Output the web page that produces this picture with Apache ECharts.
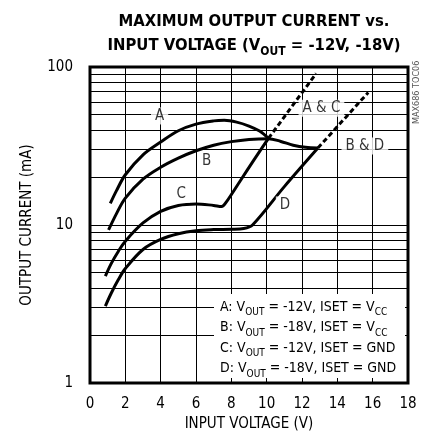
<!DOCTYPE html>
<html>
<head>
<meta charset="utf-8">
<script src="https://cdn.jsdelivr.net/npm/echarts@6/dist/echarts.min.js"></script>
<style>
  html, body { margin: 0; padding: 0; background: #fff; }
  #chart { width: 426px; height: 443px; }
</style>
</head>
<body>
<div id="chart"></div>
<script>
// curves: [input voltage (V), output current (mA)]
const curveA = [[1.15, 13.7], [1.5, 16.5], [2, 20.8], [3, 27.8], [4, 33.5], [5, 39.5], [6, 43.5], [7, 45.6], [7.6, 46], [8.3, 44.8], [9, 42.3], [9.6, 39.3], [10.1, 35.3]];
const curveB = [[1.05, 9.3], [1.5, 11.8], [2, 14.8], [3, 19.5], [4, 23.2], [5, 26.5], [6, 29.5], [7, 32], [8, 33.7], [9, 34.8], [10.1, 35.2], [10.8, 33.8], [11.5, 32], [12.2, 31], [12.9, 30.7]];
const curveC = [[0.87, 4.75], [1.2, 5.7], [1.6, 6.8], [2, 7.9], [3, 10.3], [4, 12.2], [5, 13.3], [6, 13.6], [7, 13.3], [7.45, 13.1], [7.7, 13.9], [8.5, 19], [9.3, 26], [10.1, 35.3]];
const curveD = [[0.87, 3.07], [1.2, 3.7], [1.6, 4.5], [2, 5.3], [3, 7], [4, 8.1], [5, 8.8], [6, 9.2], [7, 9.35], [8, 9.4], [8.7, 9.5], [9.2, 10], [11, 17.5], [12.9, 30.7]];
const dashAC = [[10.1, 35.3], [12.8, 91]];
const dashBD = [[12.9, 30.7], [15.75, 69]];

const minorGrid = [2, 3, 4, 5, 6, 7, 8, 9, 20, 30, 40, 50, 60, 70, 80, 90];

const curveLabels = [
  { name: 'A', value: [3.94, 49] },
  { name: 'B', value: [6.6, 25.2] },
  { name: 'C', value: [5.17, 15.7] },
  { name: 'D', value: [11.04, 13.4] },
  { name: 'A & C', value: [13.1, 54.8] },
  { name: 'B & D', value: [15.56, 31.6] }
];

const legendLines = [
  'A: V{sub|OUT} = -12V, ISET = V{sub|CC}',
  'B: V{sub|OUT} = -18V, ISET = V{sub|CC}',
  'C: V{sub|OUT} = -12V, ISET = GND',
  'D: V{sub|OUT} = -18V, ISET = GND'
];

const FONT = '"Liberation Sans Narrow", "DejaVu Sans Condensed", sans-serif';

var myChart = echarts.init(document.getElementById('chart'));

function curve(data, dashed) {
  return {
    type: 'line',
    data: data,
    smooth: dashed ? false : 0.35,
    symbol: 'none',
    silent: true,
    z: 3,
    lineStyle: {
      color: '#000',
      width: 3,
      type: dashed ? [5, 3] : 'solid'
    }
  };
}

const option = {
  animation: false,
  backgroundColor: '#fff',
  textStyle: { fontFamily: FONT },
  title: {
    text: 'MAXIMUM OUTPUT CURRENT vs.\nINPUT VOLTAGE (V{sub|OUT} = -12V, -18V)',
    left: 249,
    top: 5,
    textAlign: 'center',
    textStyle: {
      fontFamily: FONT,
      fontSize: 16.5,
      fontWeight: 'bold',
      color: '#000',
      lineHeight: 24,
      rich: {
        sub: { fontFamily: FONT, fontSize: 12, fontWeight: 'bold', color: '#000', lineHeight: 17, verticalAlign: 'bottom' }
      }
    }
  },
  grid: {
    left: 90,
    right: 18,
    top: 67,
    bottom: 60,
    show: true,
    borderColor: '#000',
    borderWidth: 3,
    backgroundColor: 'transparent'
  },
  xAxis: {
    type: 'value',
    min: 0,
    max: 18,
    interval: 2,
    name: 'INPUT VOLTAGE (V)',
    nameLocation: 'middle',
    nameGap: 30,
    nameTextStyle: { fontFamily: FONT, fontSize: 15, color: '#000' },
    axisLine: { show: false },
    axisTick: { show: false },
    axisLabel: { margin: 14, fontFamily: FONT, fontSize: 15, color: '#000' },
    splitLine: { show: true, lineStyle: { color: '#000', width: 1 } }
  },
  yAxis: {
    type: 'log',
    logBase: 10,
    min: 1,
    max: 100,
    name: 'OUTPUT CURRENT (mA)',
    nameLocation: 'middle',
    nameGap: 55,
    nameTextStyle: { fontFamily: FONT, fontSize: 15, color: '#000' },
    axisLine: { show: false },
    axisTick: { show: false },
    axisLabel: { margin: 17, fontFamily: FONT, fontSize: 15, color: '#000' },
    splitLine: { show: true, lineStyle: { color: '#000', width: 1 } }
  },
  series: [
    {
      // minor log gridlines
      type: 'line',
      data: [],
      silent: true,
      z: 1,
      markLine: {
        silent: true,
        symbol: 'none',
        label: { show: false },
        lineStyle: { color: '#000', width: 1, type: 'solid' },
        data: minorGrid.map(v => ({ yAxis: v }))
      }
    },
    curve(curveA),
    curve(curveB),
    curve(curveC),
    curve(curveD),
    curve(dashAC, true),
    curve(dashBD, true),
    {
      type: 'scatter',
      data: curveLabels,
      symbolSize: 0,
      silent: true,
      z: 5,
      label: {
        show: true,
        position: 'inside',
        formatter: p => p.name,
        fontFamily: FONT,
        fontSize: 15,
        color: '#000',
        backgroundColor: '#fff',
        padding: [1, 4]
      }
    }
  ],
  graphic: [
    {
      type: 'rect',
      z: 100,
      shape: { x: 214, y: 294, width: 191, height: 84 },
      style: { fill: '#fff' }
    },
    {
      type: 'text',
      z: 101,
      x: 220,
      y: 297,
      style: {
        text: legendLines.join('\n'),
        fontFamily: FONT,
        fontSize: 14,
        lineHeight: 20.5,
        fill: '#000',
        rich: {
          sub: { fontFamily: FONT, fontSize: 10, fill: '#000', lineHeight: 15, verticalAlign: 'bottom' }
        }
      }
    },
    {
      type: 'text',
      z: 100,
      x: 412,
      y: 124,
      rotation: Math.PI / 2,
      style: {
        text: 'MAX686 TOC06',
        fontFamily: FONT,
        fontSize: 9,
        fill: '#555'
      }
    }
  ]
};
myChart.setOption(option);
</script>
</body>
</html>
